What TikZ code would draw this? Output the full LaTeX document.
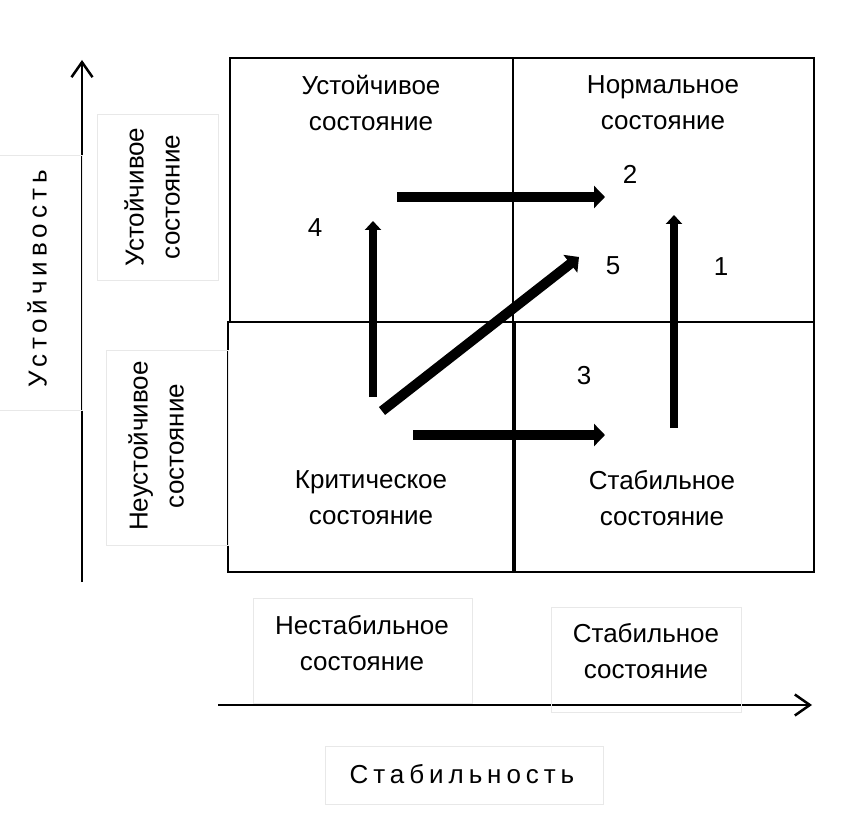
\documentclass[tikz,border=0pt]{standalone}
\usepackage{fontspec}
\setmainfont{Liberation Sans}
\newfontfamily\spacedfont[LetterSpace=19]{Liberation Sans}
\usetikzlibrary{positioning,arrows.meta}

\tikzset{
	quad/.style 2 args={draw,line width=2pt,inner sep=0pt,minimum width=#1,minimum height=#2},
	lbl/.style 2 args={draw=black!9,line width=1pt,inner sep=0pt,minimum width=#1,minimum height=#2},
	txt/.style={font=\fontsize{26}{36}\selectfont,align=center,inner sep=0pt},
	spaced/.style={font=\fontsize{26}{36}\spacedfont,inner sep=0pt},
	axis/.style={line width=2.5pt,-{Straight Barb[length=15pt,width=21pt]}},
	bigarrow/.style={line width=10pt,-{Triangle[length=11pt,width=22pt]}},
	smallarrow/.style={line width=7.5pt,-{Triangle[length=9pt,width=16pt]}}
}

\begin{document}
\begin{tikzpicture}[x=1pt,y=-1pt]
		\useasboundingbox (0,0) rectangle (856,826);
		% four states
		\node[quad={283pt}{264pt}] (ul) at (371.5,190) {};
		\node[quad={301pt}{264pt}] (ur) at (663.5,190) {};
		\node[quad={285pt}{250pt}] (ll) at (370.5,447) {};
		\node[quad={299pt}{250pt}] (lr) at (664.5,447) {};
		\node[txt] (ultxt) at (371,103) {Устойчивое\\состояние};
		\node[txt] (urtxt) at (663,103) {Нормальное\\состояние};
		\node[txt] (lltxt) at (371,498) {Критическое\\состояние};
		\node[txt] (lrtxt) at (662,498) {Стабильное\\состояние};
		% axes
		\coordinate (yo) at (82,582);
		\coordinate (ytip) at (82,60);
		\draw[axis] (yo) -- (ytip);
		\coordinate (xo) at (218,705);
		\coordinate (xtip) at (812,705);
		\draw[axis] (xo) -- (xtip);
		% axis labels
		\node[lbl={254pt}{86pt},rotate=90] (ybox) at (39,283) {};
		\node[spaced,rotate=90] (ylab) at (37,279) {Устойчивость};
		\node[lbl={165pt}{121pt},rotate=90] (usbox) at (157.5,197.5) {};
		\node[txt,rotate=90] (ustxt) at (152,197) {Устойчивое\\состояние};
		\node[lbl={195pt}{122pt},rotate=90] (nsbox) at (167,447.5) {};
		\node[txt,rotate=90] (nstxt) at (156,446) {Неустойчивое\\состояние};
		\node[lbl={219pt}{105pt}] (nstbox) at (362.5,650.5) {};
		\node[txt] (nsttxt) at (362,643) {Нестабильное\\состояние};
		\node[lbl={190pt}{105pt}] (stbox) at (646,659.5) {};
		\node[txt] (sttxt) at (646,651) {Стабильное\\состояние};
		\node[lbl={278pt}{58pt}] (xbox) at (464,775) {};
		\node[spaced] (xlab) at (462,774) {Стабильность};
		% transitions
		\coordinate (s1) at (674,428); \coordinate (e1) at (674,215);
		\coordinate (s2) at (397,197); \coordinate (e2) at (605,197);
		\coordinate (s3) at (413,435); \coordinate (e3) at (605,435);
		\coordinate (s4) at (373,397); \coordinate (e4) at (373,221);
		\coordinate (s5) at (382,411); \coordinate (e5) at (579,257);
		\draw[smallarrow] (s1) -- (e1);
		\draw[bigarrow] (s2) -- (e2);
		\draw[bigarrow] (s3) -- (e3);
		\draw[smallarrow] (s4) -- (e4);
		\draw[bigarrow] (s5) -- (e5);
		\node[txt] (n1) at (721,267) {1};
		\node[txt] (n2) at (630,174) {2};
		\node[txt] (n3) at (584,376) {3};
		\node[txt] (n4) at (315,228) {4};
		\node[txt] (n5) at (613,266) {5};
\end{tikzpicture}
\end{document}
